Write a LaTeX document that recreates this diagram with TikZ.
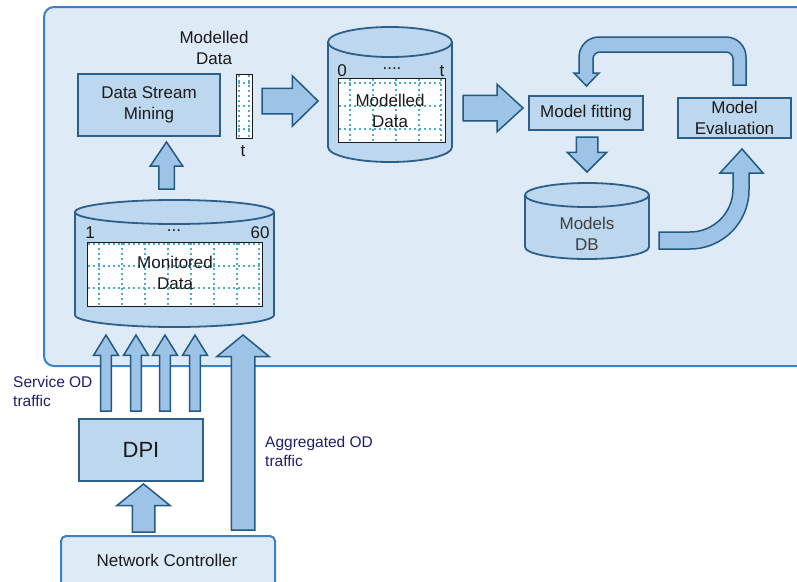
\documentclass[tikz,border=0pt]{standalone}
\usepackage{fontspec}
\setmainfont{Liberation Sans}
\usetikzlibrary{shapes.arrows, calc}

\definecolor{bgfill}{HTML}{DEEAF6}
\definecolor{bgline}{HTML}{3F7FC5}
\definecolor{boxfill}{HTML}{BDD7EE}
\definecolor{boxline}{HTML}{2C5F8A}
\definecolor{arrfill}{HTML}{9DC3E6}
\definecolor{arrline}{HTML}{235A82}
\definecolor{dotcol}{HTML}{4BACC6}
\definecolor{ncfill}{HTML}{DDEBF7}
\definecolor{navy}{HTML}{1E1E6E}
\definecolor{txt}{HTML}{1A1A1A}

\newcommand{\lbl}{\fontsize{17}{20.5}\selectfont}
% database drawing: centre x, top y, bottom y, x radius, y radius
\newcommand{\dbshape}[5]{%
  \draw[db] (#1-#4,#2) -- (#1-#4,#3) arc[start angle=180,end angle=360,x radius=#4pt,y radius=#5pt]
    -- (#1+#4,#2) arc[start angle=0,end angle=180,x radius=#4pt,y radius=#5pt] -- cycle;
  \draw[db, fill=none] (#1-#4,#2) arc[start angle=180,end angle=360,x radius=#4pt,y radius=#5pt];}

\tikzset{
  box/.style={draw=boxline, fill=boxfill, line width=1.8pt, align=center, font=\lbl, text=txt, inner sep=2pt},
  plain/.style={align=center, font=\lbl, text=txt, inner sep=0pt},
  note/.style={align=left, font=\fontsize{15.5}{19}\selectfont, text=navy, inner sep=0pt},
  db/.style={draw=boxline, fill=boxfill, line width=1.8pt},
  barrow/.style={single arrow, draw=arrline, fill=arrfill, line width=1.5pt, inner xsep=0pt, outer sep=0pt,
    single arrow head indent=0pt, anchor=tail},
  bentarrow/.style={draw=arrline, fill=arrfill, line width=1.5pt, line join=miter},
  cell/.style={draw=dotcol, line width=2pt, dash pattern=on 2.4pt off 2.6pt},
}

\begin{document}
\begin{tikzpicture}[x=1pt, y=-1pt]
  \useasboundingbox (0,0) rectangle (797,581);
  % --- frame ---
  \draw[fill=bgfill, draw=bgline, line width=2pt, rounded corners=10pt] (44,7) rectangle (812,366);

  % --- stream mining ---
  \node[box, minimum width=142, minimum height=62] (dsm) at (149,105) {Data Stream\\Mining};
  \draw[fill=white, draw=txt, line width=1pt] (236,74) rectangle (252,138);
  \foreach \y in {83,106,129} \draw[cell] (238,\y) -- (251,\y);
  \foreach \x in {238.5,249} \draw[cell] (\x,75) -- (\x,137);
  \node[plain] (colhead) at (214,48) {Modelled\\Data};
  \node[plain] (colt) at (243,151) {t};
  \node[barrow, minimum height=56, inner ysep=12, single arrow head extend=12.5, single arrow tip angle=89] (a1) at (262,101) {};

  % --- modelled data ---
  \dbshape{390}{42}{147}{62}{15}
  \draw[fill=white, draw=txt, line width=1pt] (338,78) rectangle (445,142);
  \foreach \y in {83,106,129} \draw[cell] (339,\y) -- (444,\y);
  \foreach \x in {350,373,396,419,441} \draw[cell] (\x,79) -- (\x,141);
  \node[plain] (mzero) at (342,71) {0};
  \node[plain] (mdots) at (392,69) {....};
  \node[plain] (mt) at (442,71) {t};
  \node[plain] (mcyl) at (390,111) {Modelled\\Data};
  \node[barrow, minimum height=60, inner ysep=12, single arrow head extend=11, single arrow tip angle=85] (a2) at (463,108) {};

  % --- models ---
  \node[box, minimum width=114, minimum height=34] (fit) at (586,113) {Model fitting};
  \node[box, minimum width=113, minimum height=40] (eval) at (734.5,118) {Model\\Evaluation};
  \node[barrow, rotate=-90, minimum height=35, inner ysep=10, single arrow head extend=9, single arrow tip angle=90] (a3) at (587,137) {};
  \dbshape{587}{195}{247}{62}{12}
  \node[plain, text=black!75] (mdb) at (587,234) {Models\\DB};
  \draw[bentarrow] (659,232) -- (690,232) arc[start angle=-90, end angle=0, radius=43pt]
    -- (733,173) -- (720,173) -- (742,149) -- (763,173) -- (749,173) -- (749,190)
    arc[start angle=0, end angle=-90, radius=59pt] -- (659,249) -- cycle;
  \draw[bentarrow] (746,85) -- (746,57) arc[start angle=0, end angle=90, radius=20pt]
    -- (599,37) arc[start angle=90, end angle=180, radius=20pt]
    -- (579,73) -- (574,73) -- (586.5,86) -- (599,73) -- (593,73) -- (593,59)
    arc[start angle=180, end angle=90, radius=7pt] -- (726,52)
    arc[start angle=90, end angle=0, radius=7pt] -- (733,85) -- cycle;

  % --- monitored data ---
  \dbshape{174.5}{212}{315}{99.5}{12}
  \draw[fill=white, draw=txt, line width=1pt] (87,242) rectangle (262,306);
  \foreach \y in {244,266,288} \draw[cell] (88,\y) -- (261,\y);
  \foreach \x in {99,122,145,168,191,214,237,259} \draw[cell] (\x,243) -- (\x,305);
  \node[plain] (mone) at (90,233) {1};
  \node[plain] (mdots2) at (174,231) {...};
  \node[plain] (msixty) at (260,233) {60};
  \node[plain] (mon) at (175,273) {Monitored\\Data};
  \node[barrow, rotate=90, minimum height=47, inner ysep=7, single arrow head extend=8.5, single arrow tip angle=68] (a4) at (166.5,189) {};

  % --- inputs ---
  \foreach \x [count=\i] in {106,136,165,195}
    \node[barrow, rotate=90, minimum height=76, inner ysep=4.7, single arrow head extend=7, single arrow tip angle=63] (s\i) at (\x,411) {};
  \node[barrow, rotate=90, minimum height=195, inner ysep=11, single arrow head extend=14.5, single arrow tip angle=101] (agg) at (243,530) {};
  \node[box, minimum width=124, minimum height=62, font=\fontsize{22}{26}\selectfont] (dpi) at (141,450) {DPI};
  \node[barrow, rotate=90, minimum height=48, inner ysep=10.5, single arrow head extend=15.5, single arrow tip angle=102] (a5) at (143.5,532) {};
  \draw[fill=ncfill, draw=bgline, line width=2pt, rounded corners=5pt] (61,536) rectangle (275,600);
  \node[plain] (nc) at (167,560) {Network Controller};
  \node[note, anchor=west] (svc) at (13,391) {Service OD\\traffic};
  \node[note, anchor=west] (aggl) at (265,451) {Aggregated OD\\traffic};
\end{tikzpicture}
\end{document}
